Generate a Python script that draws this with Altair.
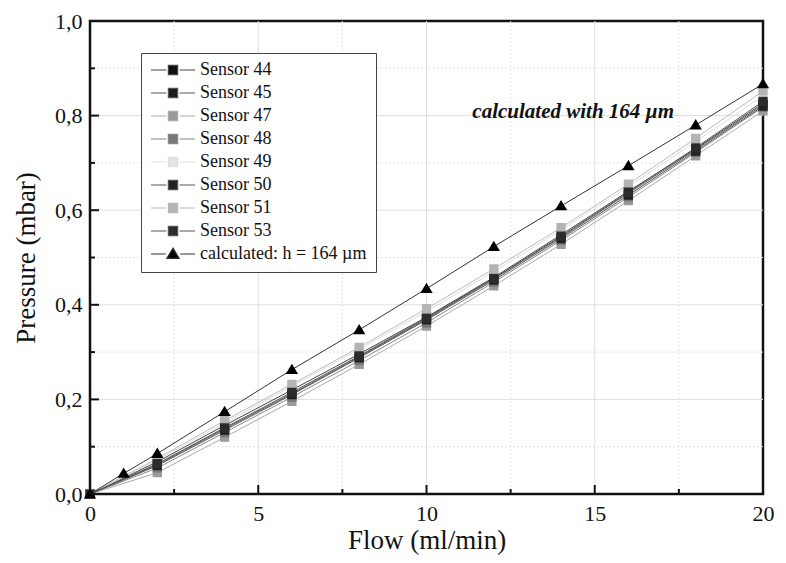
import altair as alt
import pandas as pd

flow_sensor = [0, 2, 4, 6, 8, 10, 12, 14, 16, 18, 20]
flow_calc = [0, 1, 2, 4, 6, 8, 10, 12, 14, 16, 18, 20]

series_names = ["Sensor 44", "Sensor 45", "Sensor 47", "Sensor 48", "Sensor 49",
                "Sensor 50", "Sensor 51", "Sensor 53", "calculated: h = 164 \u00b5m"]
series_colors = ["#111111", "#1c1c1c", "#9a9a9a", "#777777", "#e4e4e4",
                 "#222222", "#b4b4b4", "#2c2c2c", "#000000"]
line_colors = ["#444444", "#555555", "#aaaaaa", "#888888", "#dddddd",
               "#555555", "#bbbbbb", "#555555", "#333333"]

s44 = [0, 0.068, 0.145, 0.220, 0.296, 0.374, 0.458, 0.548, 0.640, 0.730, 0.826]
s45 = [0, 0.062, 0.138, 0.212, 0.290, 0.370, 0.455, 0.543, 0.636, 0.728, 0.823]
s47 = [0, 0.045, 0.120, 0.196, 0.274, 0.355, 0.440, 0.528, 0.620, 0.715, 0.810]
s48 = [0, 0.055, 0.130, 0.205, 0.282, 0.362, 0.448, 0.536, 0.628, 0.722, 0.818]
s49 = [0, 0.072, 0.150, 0.228, 0.306, 0.386, 0.470, 0.558, 0.650, 0.745, 0.842]
s50 = [0, 0.060, 0.135, 0.210, 0.288, 0.368, 0.452, 0.540, 0.632, 0.725, 0.820]
s51 = [0, 0.075, 0.155, 0.232, 0.310, 0.392, 0.476, 0.563, 0.655, 0.752, 0.852]
s53 = [0, 0.064, 0.140, 0.215, 0.292, 0.372, 0.456, 0.545, 0.638, 0.732, 0.830]
calc = [0, 0.0434, 0.0855, 0.174, 0.263, 0.347, 0.434, 0.523, 0.609, 0.694, 0.780, 0.867]

x_labels = [0, 5, 10, 15, 20]
x_minor = [2.5, 7.5, 12.5, 17.5]
y_labels = [0, 0.2, 0.4, 0.6, 0.8, 1.0]
y_minor = [0.1, 0.3, 0.5, 0.7, 0.9]

note_text = ["calculated with 164 \u00b5m"]
note_x = [14.36]
note_y = [0.808]

rows = []
for name, vals in zip(series_names[:8], [s44, s45, s47, s48, s49, s50, s51, s53]):
    for i, (f, v) in enumerate(zip(flow_sensor, vals)):
        rows.append({"series": name, "flow": f, "p": v, "order": i})
for i, (f, v) in enumerate(zip(flow_calc, calc)):
    rows.append({"series": series_names[8], "flow": f, "p": v, "order": i})
df = pd.DataFrame(rows)

SQ = "M-1,0H-0.3M0.3,0H1M-0.21,-0.21H0.21V0.21H-0.21Z"
TRI = "M-1,0H-0.33M0.33,0H1M0,-0.27L0.28,0.2H-0.28Z"
shapes = [SQ] * 8 + [TRI]

W, H = 673, 473
FONT = "Liberation Serif"

xs = alt.Scale(domain=[0, 20], nice=False, zero=False)
ys = alt.Scale(domain=[0, 1], nice=False, zero=False)
col_scale = alt.Scale(domain=series_names, range=series_colors)
line_scale = alt.Scale(domain=series_names, range=line_colors)
shape_scale = alt.Scale(domain=series_names, range=shapes)

xaxis = alt.Axis(values=x_labels, title="Flow (ml/min)", grid=False, domain=False, ticks=False,
                 labelFont=FONT, labelFontSize=22, labelColor="#111", labelPadding=9,
                 titleFont=FONT, titleFontSize=27, titleFontWeight="normal", titleColor="#111",
                 titlePadding=3, labelFlush=False, format="d")
yaxis = alt.Axis(values=y_labels, title="Pressure (mbar)", grid=False, domain=False, ticks=False,
                 labelFont=FONT, labelFontSize=22, labelColor="#111", labelPadding=8,
                 titleFont=FONT, titleFontSize=27, titleFontWeight="normal", titleColor="#111",
                 titlePadding=14, labelFlush=False,
                 labelExpr="replace(format(datum.value, '.1f'), '.', ',')")

X = alt.X("flow:Q", scale=xs, axis=xaxis)
Y = alt.Y("p:Q", scale=ys, axis=yaxis)

gx_major = pd.DataFrame({"v": x_labels[1:-1]})
gx_minor = pd.DataFrame({"v": x_minor})
gy_major = pd.DataFrame({"v": y_labels[1:-1]})
gy_minor = pd.DataFrame({"v": y_minor})

grid_x_major = alt.Chart(gx_major).mark_rule(color="#dedede", strokeWidth=1).encode(
    x=alt.X("v:Q", scale=xs, axis=xaxis))
grid_x_minor = alt.Chart(gx_minor).mark_rule(color="#e2e2e2", strokeWidth=1, strokeDash=[2, 2]).encode(
    x=alt.X("v:Q", scale=xs, axis=xaxis))
grid_y_major = alt.Chart(gy_major).mark_rule(color="#dedede", strokeWidth=1).encode(
    y=alt.Y("v:Q", scale=ys, axis=yaxis))
grid_y_minor = alt.Chart(gy_minor).mark_rule(color="#e2e2e2", strokeWidth=1, strokeDash=[2, 2]).encode(
    y=alt.Y("v:Q", scale=ys, axis=yaxis))

legend = alt.Legend(title=None, orient="none", legendX=51, legendY=32,
                    labelFont=FONT, labelFontSize=18, labelColor="#111", labelOffset=4,
                    labelLimit=400,
                    symbolSize=1936, clipHeight=16, rowPadding=5, padding=9,
                    strokeColor="#444", fillColor="white", symbolStrokeWidth=1.2,
                    symbolOpacity=1)

lines = alt.Chart(df).mark_line(strokeWidth=1).encode(
    x=X, y=Y,
    color=alt.Color("series:N", scale=line_scale, legend=None),
    detail="series:N",
    order="order:Q",
)

points = alt.Chart(df).mark_point(filled=True, size=1936, opacity=1).encode(
    x=X, y=Y,
    fill=alt.Fill("series:N", scale=col_scale, legend=legend, sort=series_names),
    stroke=alt.Stroke("series:N", scale=line_scale, legend=legend, sort=series_names),
    shape=alt.Shape("series:N", scale=shape_scale, legend=legend, sort=series_names),
    strokeWidth=alt.value(0),
)

note_df = pd.DataFrame({"t": note_text, "x": note_x, "y": note_y})
note = alt.Chart(note_df).mark_text(font=FONT, fontSize=21, fontWeight="bold", fontStyle="italic",
                                    color="#111", align="center", baseline="middle").encode(
    x=alt.X("x:Q", scale=xs, axis=xaxis), y=alt.Y("y:Q", scale=ys, axis=yaxis), text="t:N")

tick_x_major = alt.Chart(pd.DataFrame({"v": x_labels})).mark_rule(color="#111", strokeWidth=2).encode(
    x=alt.X("v:Q", scale=xs, axis=xaxis), y=alt.value(H), y2=alt.value(H - 9))
tick_x_minor = alt.Chart(gx_minor).mark_rule(color="#111", strokeWidth=2).encode(
    x=alt.X("v:Q", scale=xs, axis=xaxis), y=alt.value(H), y2=alt.value(H - 5))
tick_y_major = alt.Chart(pd.DataFrame({"v": y_labels})).mark_rule(color="#111", strokeWidth=2).encode(
    y=alt.Y("v:Q", scale=ys, axis=yaxis), x=alt.value(0), x2=alt.value(9))
tick_y_minor = alt.Chart(gy_minor).mark_rule(color="#111", strokeWidth=2).encode(
    y=alt.Y("v:Q", scale=ys, axis=yaxis), x=alt.value(0), x2=alt.value(5))

chart = alt.layer(
    grid_x_major, grid_x_minor, grid_y_major, grid_y_minor,
    lines, points, note,
    tick_x_major, tick_x_minor, tick_y_major, tick_y_minor,
).resolve_scale(
    color="independent", fill="independent", stroke="independent", shape="independent"
).properties(
    width=W, height=H,
    background="white",
    autosize=alt.AutoSizeParams(type="none"),
    padding={"left": 82, "top": 13, "right": 15, "bottom": 61},
).configure_view(
    stroke="#111", strokeWidth=2.5
).configure_legend(
    labelFont=FONT, labelFontSize=18, labelColor="#111", labelLimit=400
)

chart.save("out.html", embed_options={"renderer": "svg", "actions": False})
